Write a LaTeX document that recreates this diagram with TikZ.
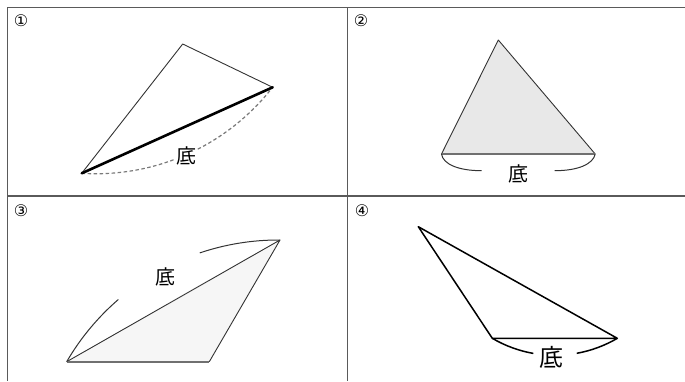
\documentclass[tikz,border=0pt]{standalone}
\usepackage{fontspec}
\newfontfamily\cjk{Noto Sans CJK JP}
\newfontfamily\numfont{DejaVu Sans}
\definecolor{gridc}{HTML}{5A5A5A}
\definecolor{edgec}{HTML}{333333}
\definecolor{dashc}{HTML}{7A7A7A}
\definecolor{fillb}{HTML}{E8E8E8}
\definecolor{fillc}{HTML}{F6F6F6}
\definecolor{basec}{HTML}{707070}
\tikzset{
  gridline/.style={draw=gridc, line width=1.5pt},
  numlabel/.style={font=\numfont\fontsize{16}{16}\selectfont, inner sep=0pt},
  baselabel/.style={font=\cjk\fontsize{20}{20}\selectfont, inner sep=1pt},
  thinedge/.style={draw=edgec, line width=0.9pt, line join=round},
  arcline/.style={draw=edgec, line width=1pt},
}
\begin{document}
\begin{tikzpicture}[x=1pt,y=-1pt]
\useasboundingbox (0,0) rectangle (685,381);
% grid
\coordinate (gtr) at (685,7.5);
\coordinate (gtl) at (7.5,7.5);
\coordinate (gbl) at (7.5,381);
\coordinate (gmt) at (347.5,7.5);
\coordinate (gmb) at (347.5,381);
\coordinate (gml) at (7.5,196);
\coordinate (gmr) at (685,196);
\draw[gridline] (gtr) -- (gtl) -- (gbl);
\draw[gridline] (gmt) -- (gmb);
\draw[gridline] (gml) -- (gmr);
% numbers
\node[numlabel] (n1) at (21,21) {①};
\node[numlabel] (n2) at (361,21) {②};
\node[numlabel] (n3) at (21,211) {③};
\node[numlabel] (n4) at (362,211) {④};
% panel 1
\coordinate (p1a) at (81.7,173.3);
\coordinate (p1b) at (182.7,44);
\coordinate (p1c) at (272.7,87.3);
\draw[thinedge] (p1a) -- (p1b) -- (p1c);
\draw[draw=dashc, line width=1.2pt, dash pattern=on 3.5pt off 2.5pt]
  (p1a) arc[start angle=93.6, end angle=37.9, radius=224];
\draw[line width=2.6pt, line cap=round] (p1a) -- (p1c);
\node[baselabel, fill=white] (t1) at (186.3,156) {底};
% panel 2
\coordinate (p2a) at (441.5,154);
\coordinate (p2b) at (498.3,40);
\coordinate (p2c) at (595.2,154);
\fill[fillb] (p2a) -- (p2b) -- (p2c) -- cycle;
\draw[thinedge] (p2a) -- (p2b) -- (p2c);
\draw[draw=basec, line width=1.7pt] (p2a) -- (p2c);
\draw[arcline] (p2a) .. controls (443,164) and (458,170.7) .. (481.7,170.7);
\draw[arcline] (p2c) .. controls (593.2,164) and (578.3,170.7) .. (554.6,170.7);
\node[baselabel] (t2) at (518.3,174) {底};
% panel 3
\coordinate (p3a) at (66.7,361.7);
\coordinate (p3b) at (209.3,361.7);
\coordinate (p3c) at (280,240);
\fill[fillc] (p3a) -- (p3b) -- (p3c) -- cycle;
\draw[thinedge] (p3b) -- (p3c) -- (p3a);
\draw[draw=basec, line width=1.7pt] (p3a) -- (p3b);
\draw[arcline] (p3a) arc[start angle=210.2, end angle=229.2, radius=245];
\draw[arcline] (p3c) arc[start angle=270.4, end angle=251.3, radius=245];
\node[baselabel] (t3) at (165,277) {底};
% panel 4
\coordinate (p4a) at (418.3,226.7);
\coordinate (p4b) at (492.3,338.3);
\coordinate (p4c) at (617.3,338.3);
\draw[line width=1.5pt, line join=round] (p4a) -- (p4b) -- (p4c) -- cycle;
\draw[line width=1.5pt] (p4b) arc[start angle=120.4, end angle=100, radius=123.4];
\draw[line width=1.5pt] (p4c) arc[start angle=59.6, end angle=79.8, radius=123.4];
\node[baselabel, font=\cjk\fontsize{24}{24}\selectfont] (t4) at (551,357.5) {底};
\end{tikzpicture}
\end{document}
